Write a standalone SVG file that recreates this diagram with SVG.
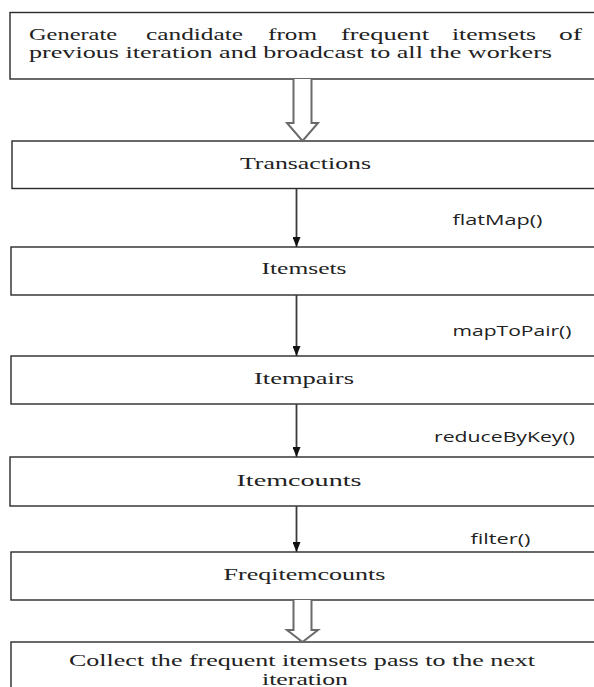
<svg xmlns="http://www.w3.org/2000/svg" width="594" height="687" viewBox="0 0 594 687">
  <style>
    .box { fill: #ffffff; stroke: #2a2a2a; stroke-width: 1.4; }
    .serif { font-family: "Liberation Serif", "Times New Roman", serif; font-size: 17px; fill: #222222; }
    .head { font-size: 16px; }
    .mid { text-anchor: middle; }
    .op { font-family: "Open Sans", "DejaVu Sans", sans-serif; font-size: 14px; fill: #222222; }
    .thin { fill: none; stroke: #3a3a3a; stroke-width: 1.8; }
    .hollow { fill: #ffffff; stroke: #6a6a6a; stroke-width: 2; stroke-linejoin: miter; }
  </style>
  <defs>
    <marker id="ah" viewBox="0 0 10 8" refX="10" refY="4" markerWidth="10" markerHeight="8" markerUnits="userSpaceOnUse" orient="auto">
      <path d="M0,0 L10,4 L0,8 Z" fill="#111111"/>
    </marker>
  </defs>
  <rect width="594" height="687" fill="#ffffff"/>

  <g id="node-generate">
    <rect class="box" x="10" y="12.5" width="600" height="66.5"/>
    <text class="serif head" x="29" y="40" textLength="88" lengthAdjust="spacingAndGlyphs">Generate</text>
    <text class="serif head" x="146" y="40" textLength="97" lengthAdjust="spacingAndGlyphs">candidate</text>
    <text class="serif head" x="268" y="40" textLength="49" lengthAdjust="spacingAndGlyphs">from</text>
    <text class="serif head" x="341" y="40" textLength="88" lengthAdjust="spacingAndGlyphs">frequent</text>
    <text class="serif head" x="452" y="40" textLength="84" lengthAdjust="spacingAndGlyphs">itemsets</text>
    <text class="serif head" x="559" y="40" textLength="23" lengthAdjust="spacingAndGlyphs">of</text>
    <text class="serif head" x="29" y="58" textLength="523" lengthAdjust="spacingAndGlyphs">previous iteration and broadcast to all the workers</text>
  </g>

  <g id="node-transactions">
    <rect class="box" x="12" y="141" width="600" height="47.5"/>
    <text class="serif mid" x="305.5" y="169" textLength="131" lengthAdjust="spacingAndGlyphs">Transactions</text>
  </g>

  <g id="node-itemsets">
    <rect class="box" x="11" y="247" width="600" height="48"/>
    <text class="serif mid" x="304" y="274" textLength="85" lengthAdjust="spacingAndGlyphs">Itemsets</text>
  </g>

  <g id="node-itempairs">
    <rect class="box" x="11" y="356" width="600" height="48"/>
    <text class="serif mid" x="304" y="384" textLength="100" lengthAdjust="spacingAndGlyphs">Itempairs</text>
  </g>

  <g id="node-itemcounts">
    <rect class="box" x="10" y="457" width="600" height="49"/>
    <text class="serif mid" x="299" y="486" textLength="125" lengthAdjust="spacingAndGlyphs">Itemcounts</text>
  </g>

  <g id="node-freqitemcounts">
    <rect class="box" x="11" y="552" width="600" height="48"/>
    <text class="serif mid" x="304.5" y="580" textLength="162" lengthAdjust="spacingAndGlyphs">Freqitemcounts</text>
  </g>

  <g id="node-collect">
    <rect class="box" x="11" y="642" width="600" height="80"/>
    <text class="serif head mid" x="302" y="666" textLength="466" lengthAdjust="spacingAndGlyphs">Collect the frequent itemsets pass to the next</text>
    <text class="serif head mid" x="305" y="684.5" textLength="86" lengthAdjust="spacingAndGlyphs">iteration</text>
  </g>

  <g id="connectors">
    <path class="hollow" d="M293.5,79 L293.5,123 L287,123 L302.5,141 L318,123 L311.5,123 L311.5,79"/>
    <line class="thin" x1="296.5" y1="188.5" x2="296.5" y2="247" marker-end="url(#ah)"/>
    <line class="thin" x1="296.5" y1="295" x2="296.5" y2="356" marker-end="url(#ah)"/>
    <line class="thin" x1="296.5" y1="404" x2="296.5" y2="457" marker-end="url(#ah)"/>
    <line class="thin" x1="296.5" y1="506" x2="296.5" y2="552" marker-end="url(#ah)"/>
    <path class="hollow" d="M293.5,600 L293.5,630 L287,630 L302.5,642 L318,630 L311.5,630 L311.5,600"/>
    <text class="op" x="452.5" y="225" textLength="90" lengthAdjust="spacingAndGlyphs">flatMap()</text>
    <text class="op" x="452.5" y="336" textLength="119" lengthAdjust="spacingAndGlyphs">mapToPair()</text>
    <text class="op" x="434" y="442" textLength="141" lengthAdjust="spacingAndGlyphs">reduceByKey()</text>
    <text class="op" x="470.5" y="544" textLength="60" lengthAdjust="spacingAndGlyphs">filter()</text>
  </g>
</svg>
